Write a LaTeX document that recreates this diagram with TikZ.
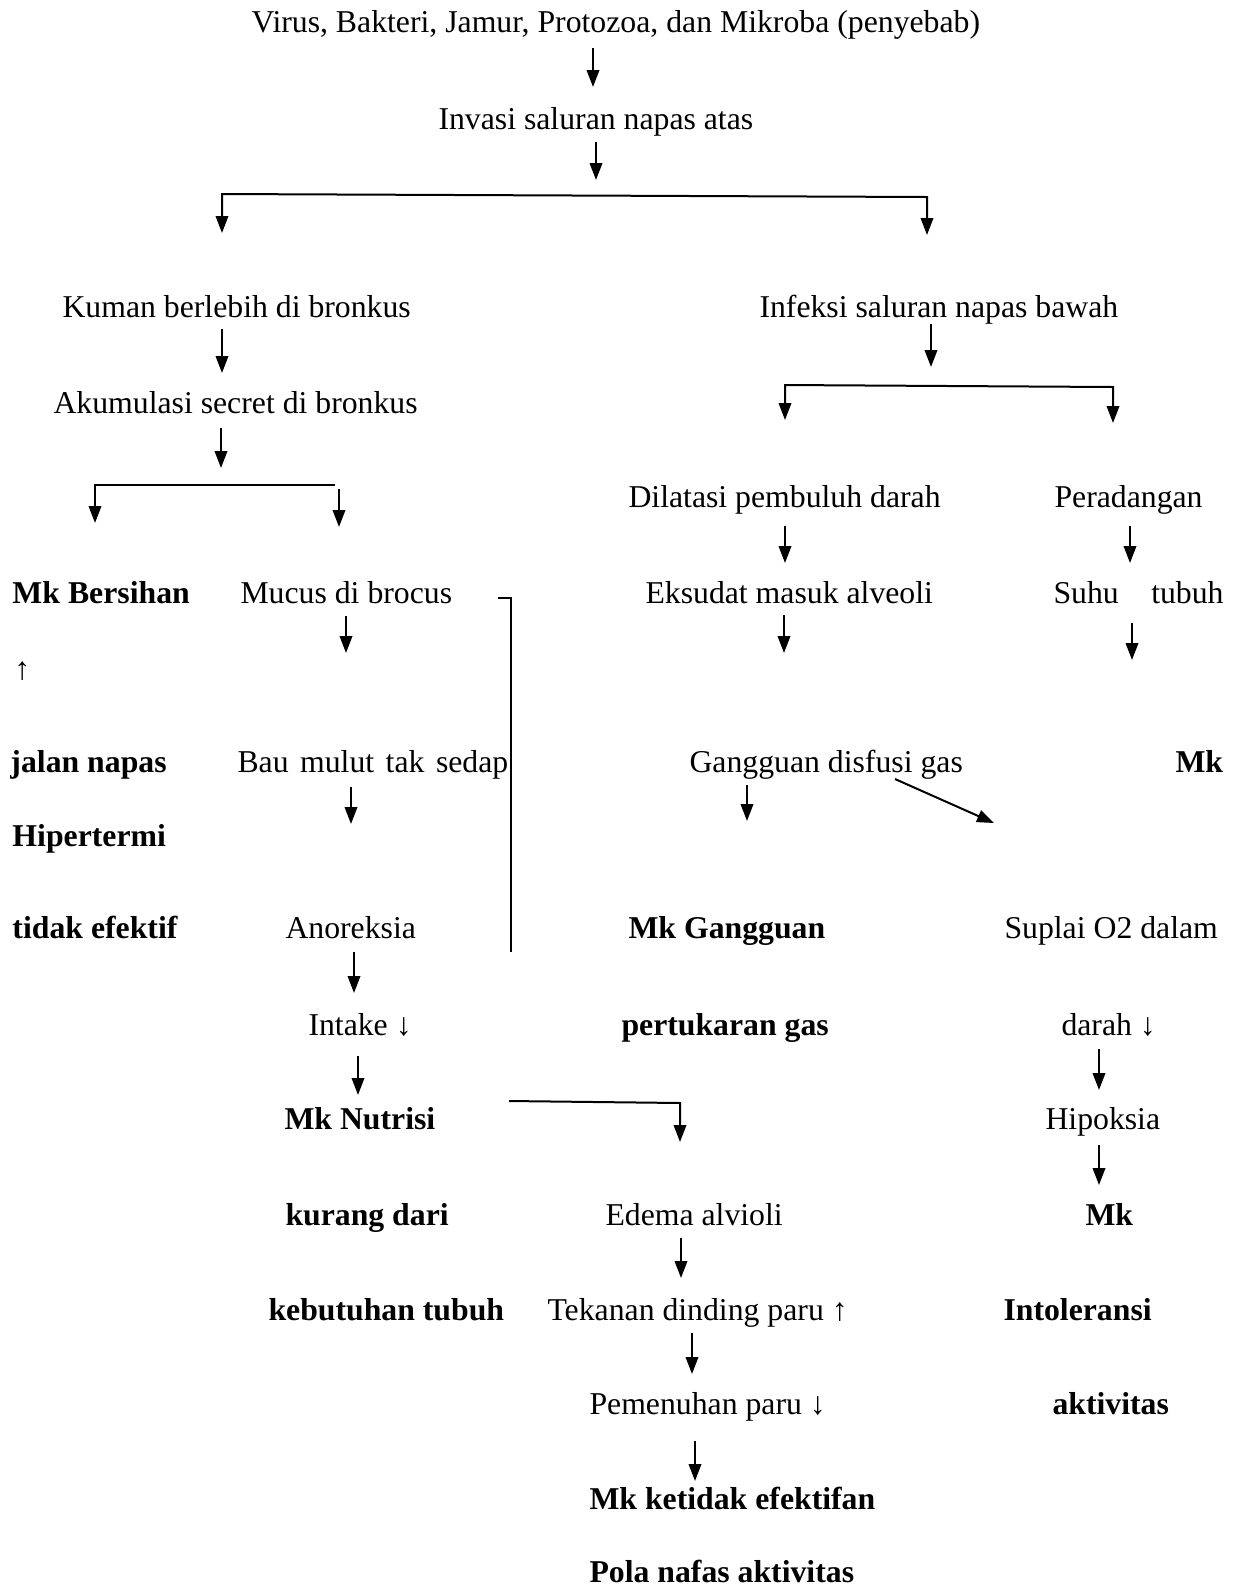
\documentclass[tikz,border=0pt]{standalone}
\usepackage{fontspec}
\setmainfont{Liberation Serif}
\usetikzlibrary{arrows.meta,calc}

\begin{document}
\begin{tikzpicture}[x=0.4pt,y=-0.4pt,
	txt/.style={anchor=west,inner sep=0pt,text height=10pt,text depth=2pt,font=\fontsize{12.7}{15}\selectfont},
	mk/.style={txt,font=\fontsize{12.7}{15}\selectfont\bfseries},
	arr/.style={line width=0.8pt,-{Triangle[length=6.8pt,width=5pt]}},
	larr/.style={line width=0.8pt,{Triangle[length=6.8pt,width=5pt]}-},
	fork/.style={line width=0.8pt,{Triangle[length=6.8pt,width=5pt]}-{Triangle[length=6.8pt,width=5pt]}},
	link/.style={line width=0.6pt}]
	\useasboundingbox (0,0) rectangle (1236,1589);
	% penyebab
	\node[txt] (virus) at (251,22) {Virus, Bakteri, Jamur, Protozoa, dan Mikroba (penyebab)};
	\node[txt] (invasi) at (438,119) {Invasi saluran napas atas};
	\node[txt] (kuman) at (62,307) {Kuman berlebih di bronkus};
	\node[txt] (infeksi) at (759,307) {Infeksi saluran napas bawah};
	\node[txt] (akumulasi) at (53,403) {Akumulasi secret di bronkus};
	\node[txt] (dilatasi) at (628,497) {Dilatasi pembuluh darah};
	\node[txt] (radang) at (1054,497) {Peradangan};
	% kiri
	\node[mk] (bersihan) at (12,593) {Mk Bersihan};
	\node[txt] (naik) at (14,669) {↑};
	\node[mk] (jalan) at (10,762) {jalan napas};
	\node[mk] (hiper) at (12,836) {Hipertermi};
	\node[mk] (efektif) at (12,928) {tidak efektif};
	\node[txt] (mucus) at (240,593) {Mucus di brocus};
	\node[txt] (bau) at (237,762) {Bau\hspace{4.6pt}mulut\hspace{4.6pt}tak\hspace{4.6pt}sedap};
	\node[txt] (anoreksia) at (285,928) {Anoreksia};
	\node[txt] (intake) at (308,1025) {Intake ↓};
	\node[mk] (nutrisi) at (284,1119) {Mk Nutrisi};
	\node[mk] (kurang) at (285,1215) {kurang dari};
	\node[mk] (butuh) at (268,1310) {kebutuhan tubuh};
	% tengah
	\node[txt] (eksudat) at (645,593) {Eksudat masuk alveoli};
	\node[txt] (difusi) at (689,762) {Gangguan disfusi gas};
	\node[mk] (mkgas) at (628,928) {Mk Gangguan};
	\node[mk] (tukar) at (621,1025) {pertukaran gas};
	\node[txt] (edema) at (605,1215) {Edema alvioli};
	\node[txt] (tekanan) at (547,1310) {Tekanan dinding paru ↑};
	\node[txt] (penuh) at (589,1404) {Pemenuhan paru ↓};
	\node[mk] (pola) at (589,1499) {Mk ketidak efektifan};
	\node[mk] (nafas) at (589,1572) {Pola nafas aktivitas};
	% kanan
	\node[txt] (suhu) at (1053,593) {Suhu\hspace{13pt}tubuh};
	\node[mk] (mkhiper) at (1175,762) {Mk};
	\node[txt] (suplai) at (1004,928) {Suplai O2 dalam};
	\node[txt] (darah) at (1061,1025) {darah ↓};
	\node[txt] (hipoksia) at (1045,1119) {Hipoksia};
	\node[mk] (mkakt) at (1085,1215) {Mk};
	\node[mk] (intol) at (1003,1310) {Intoleransi};
	\node[mk] (akt) at (1052,1404) {aktivitas};

	\draw[arr] ($(virus.west)+(342,26)$) -- ++(0,39);
	\draw[arr] ($(invasi.west)+(158,23)$) -- ++(0,38);
	\draw[fork] ($(invasi.west)+(-216,114)$) -- ++(0,-39) -- ++(705,3) -- ++(0,38);
	\draw[arr] ($(kuman.west)+(160,22)$) -- ++(0,44);
	\draw[arr] ($(infeksi.west)+(172,17)$) -- ++(0,43);
	\draw[arr] ($(akumulasi.west)+(168,25)$) -- ++(0,40);
	\draw[fork] ($(infeksi.west)+(26,113)$) -- ++(0,-35) -- ++(328,2) -- ++(0,36);
	\draw[larr] ($(akumulasi.west)+(42,120)$) -- ++(0,-38) -- ++(240,0);
	\draw[arr] ($(akumulasi.west)+(286,86)$) -- ++(0,38);
	\draw[arr] ($(dilatasi.west)+(157,29)$) -- ++(0,37);
	\draw[arr] ($(radang.west)+(76,29)$) -- ++(0,37);
	\draw[arr] ($(mucus.west)+(106,23)$) -- ++(0,37);
	\draw[link] ($(mucus.west)+(258,5)$) -- ++(13,0) -- ++(0,354);
	\draw[arr] ($(eksudat.west)+(139,22)$) -- ++(0,38);
	\draw[arr] ($(suhu.west)+(79,30)$) -- ++(0,37);
	\draw[arr] ($(bau.west)+(114,25)$) -- ++(0,37);
	\draw[arr] ($(difusi.west)+(58,23)$) -- ++(0,36);
	\draw[arr] ($(difusi.west)+(206,17)$) -- ++(99,44);
	\draw[arr] ($(anoreksia.west)+(69,24)$) -- ++(0,41);
	\draw[arr] ($(intake.west)+(50,31)$) -- ++(0,39);
	\draw[arr] ($(nutrisi.west)+(225,-18)$) -- ++(171,2) -- ++(0,39);
	\draw[arr] ($(darah.west)+(38,24)$) -- ++(0,41);
	\draw[arr] ($(hipoksia.west)+(54,26)$) -- ++(0,40);
	\draw[arr] ($(edema.west)+(76,23)$) -- ++(0,40);
	\draw[arr] ($(tekanan.west)+(145,23)$) -- ++(0,41);
	\draw[arr] ($(penuh.west)+(106,37)$) -- ++(0,40);
\end{tikzpicture}
\end{document}
